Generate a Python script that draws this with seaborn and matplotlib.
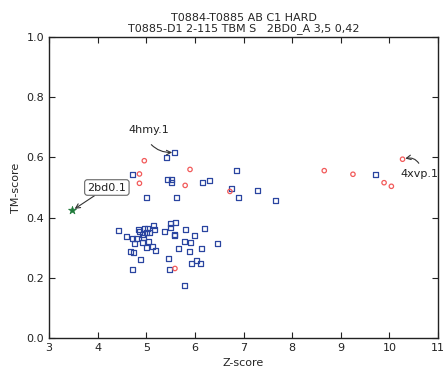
import matplotlib
matplotlib.use("Agg")
import matplotlib.pyplot as plt
import seaborn as sns
import pandas as pd

sns.set_style("ticks", {"xtick.direction": "in", "ytick.direction": "in"})
plt.rcParams['font.family'] = ['DejaVu Sans']

# Blue squares (other models)
blue_z = [5.59, 5.42, 4.71, 5.43, 5.52, 5.51, 6.16, 6.31, 6.85, 6.76, 6.90, 5.00, 5.62,
          7.29, 7.66, 9.71,
          4.43, 4.59, 4.72, 4.79, 4.75, 4.84, 4.86, 4.96, 5.00, 4.92, 5.07, 5.15, 5.16,
          4.95, 4.93, 5.04, 5.00, 5.13, 5.19, 4.67, 4.73, 4.89, 4.72, 5.37, 5.50, 5.61,
          5.50, 5.58, 5.59, 5.80, 5.99, 6.20, 6.47, 5.79, 5.90, 5.67, 5.88, 6.14, 5.45,
          5.94, 6.03, 6.11, 5.48, 5.78, 5.02]
blue_tm = [0.617, 0.599, 0.543, 0.525, 0.525, 0.516, 0.516, 0.524, 0.558, 0.497, 0.468, 0.468, 0.467,
           0.491, 0.457, 0.542,
           0.358, 0.337, 0.329, 0.332, 0.315, 0.361, 0.355, 0.365, 0.351, 0.343, 0.349, 0.374, 0.361,
           0.334, 0.317, 0.321, 0.302, 0.303, 0.290, 0.287, 0.283, 0.260, 0.229, 0.353, 0.382, 0.384,
           0.366, 0.344, 0.339, 0.360, 0.340, 0.365, 0.313, 0.320, 0.316, 0.299, 0.288, 0.298, 0.265,
           0.249, 0.259, 0.246, 0.226, 0.175, 0.364]

# Red circles
red_z = [4.96, 4.86, 4.86, 5.90, 5.80, 6.72, 5.59, 8.66, 9.25, 9.89, 10.04, 10.27]
red_tm = [0.589, 0.545, 0.514, 0.560, 0.507, 0.487, 0.231, 0.556, 0.544, 0.516, 0.504, 0.594]

# Green star
star_z = [3.48]
star_tm = [0.424]

blue_df = pd.DataFrame({"z": blue_z, "tm": blue_tm})
red_df = pd.DataFrame({"z": red_z, "tm": red_tm})
star_df = pd.DataFrame({"z": star_z, "tm": star_tm})

fig = plt.figure(figsize=(4.47, 3.72), dpi=100)
ax = fig.add_axes([0.1096, 0.0914, 0.8704, 0.8091])

sns.scatterplot(data=blue_df, x="z", y="tm", marker="s", s=13, facecolor="none",
                edgecolor="#2a45a0", linewidth=0.9, ax=ax)
sns.scatterplot(data=red_df, x="z", y="tm", marker="o", s=10, facecolor="none",
                edgecolor="#f25a5a", linewidth=0.9, ax=ax)
sns.scatterplot(data=star_df, x="z", y="tm", marker="*", s=36, color="#1f7a3a",
                edgecolor="#1f7a3a", linewidth=0.5, ax=ax)

ax.set_xlim(3, 11)
ax.set_ylim(0, 1.0)
ax.set_xticks(range(3, 12))
ax.set_yticks([0.0, 0.2, 0.4, 0.6, 0.8, 1.0])
ax.set_yticklabels(["0.0", "0.2", "0.4", "0.6", "0.8", "1.0"])
ax.tick_params(axis="both", which="both", direction="in", top=True, right=True,
               labelsize=8, length=4, width=0.8, colors="#222222")
for sp in ax.spines.values():
    sp.set_linewidth(1.0)
    sp.set_color("#222222")
ax.set_xlabel("Z-score", fontsize=8)
ax.set_ylabel("TM-score", fontsize=8)
ax.set_title("T0884-T0885 AB C1 HARD\nT0885-D1 2-115 TBM S   2BD0_A 3,5 0,42",
             fontsize=8, linespacing=1.1, pad=4)

ax.annotate("4hmy.1", xy=(blue_z[0], blue_tm[0]), xytext=(5.05, 0.692),
            fontsize=8, ha="center", va="center", color="#222222",
            arrowprops=dict(arrowstyle="->", connectionstyle="arc3,rad=0.35",
                            color="#333333", lw=0.8, shrinkA=6, shrinkB=2,
                            relpos=(0.4, 0.0)))
ax.annotate("4xvp.1", xy=(red_z[-1], red_tm[-1]), xytext=(10.62, 0.545),
            fontsize=8, ha="center", va="center", color="#222222",
            arrowprops=dict(arrowstyle="->", connectionstyle="arc3,rad=0.5",
                            color="#333333", lw=0.8, shrinkA=2, shrinkB=2,
                            relpos=(0.55, 1.0)))
ax.annotate("2bd0.1", xy=(star_z[0], star_tm[0]), xytext=(4.19, 0.500),
            fontsize=8, ha="center", va="center", color="#222222",
            bbox=dict(boxstyle="round,pad=0.25", fc="white", ec="#666666", lw=0.8),
            arrowprops=dict(arrowstyle="->", color="#333333", lw=0.8, shrinkA=0, shrinkB=2))

fig.savefig("out.png", dpi=100)
